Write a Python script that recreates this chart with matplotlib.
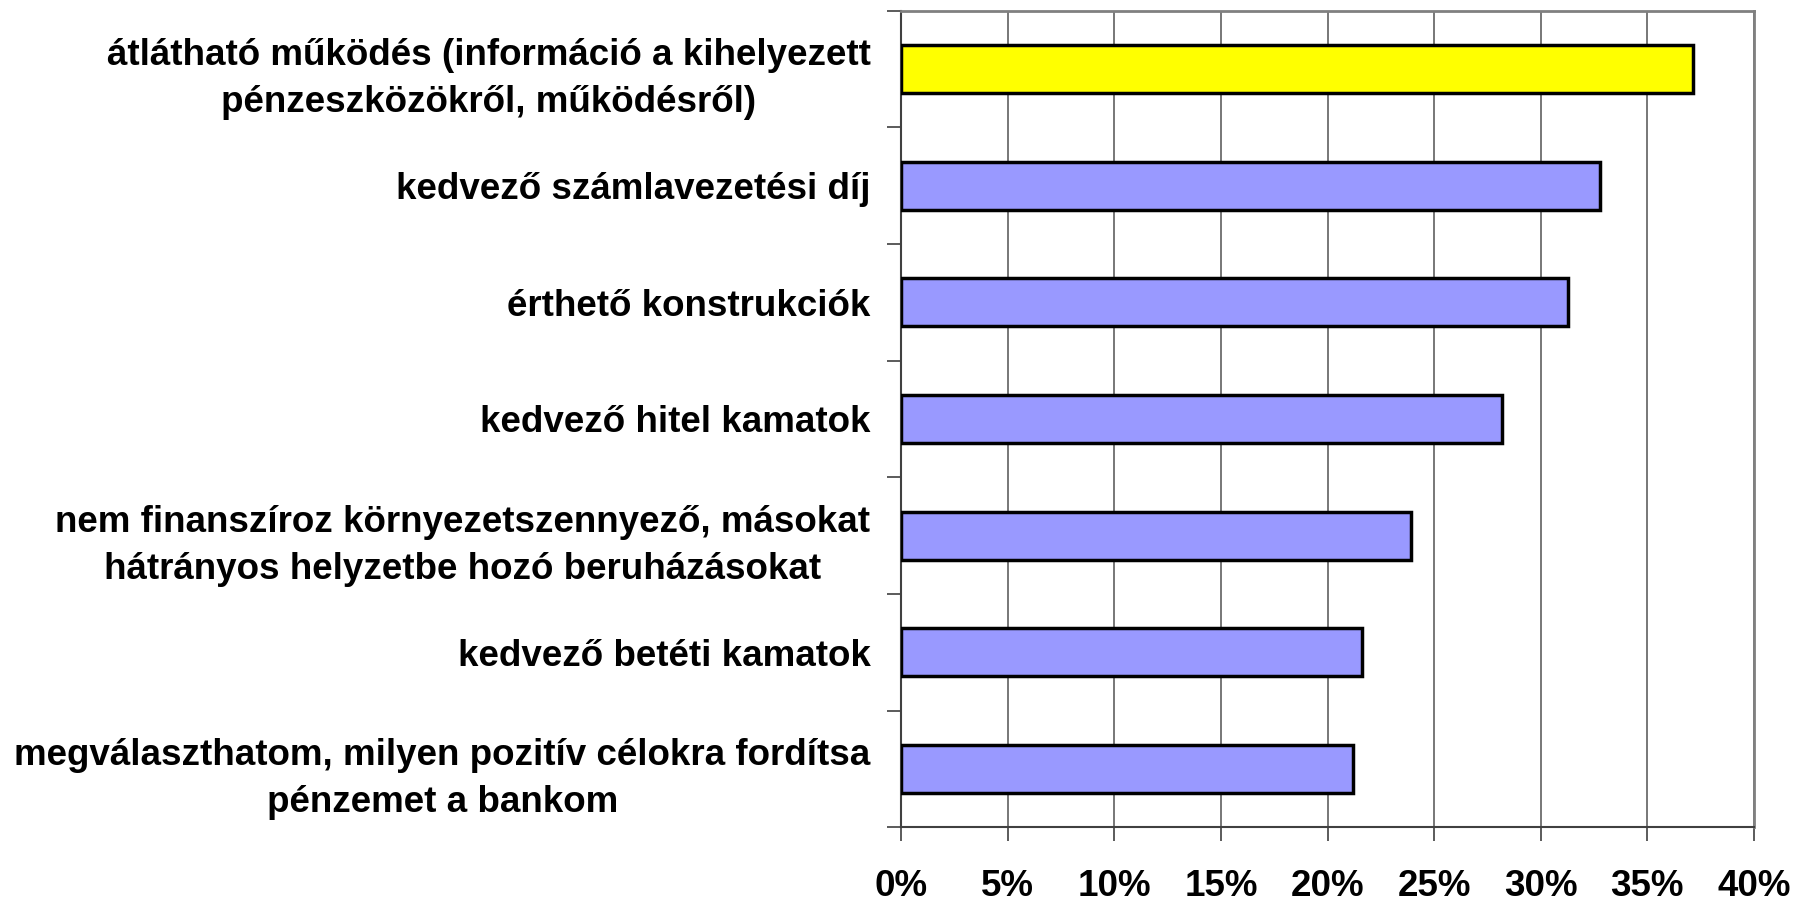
import numpy as np
import matplotlib
matplotlib.use("Agg")
import matplotlib.pyplot as plt
from matplotlib.ticker import FixedLocator, FuncFormatter

labels = ["átlátható működés (információ a kihelyezett\npénzeszközökről, működésről)",
          "kedvező számlavezetési díj",
          "érthető konstrukciók",
          "kedvező hitel kamatok",
          "nem finanszíroz környezetszennyező, másokat\nhátrányos helyzetbe hozó beruházásokat",
          "kedvező betéti kamatok",
          "megválaszthatom, milyen pozitív célokra fordítsa\npénzemet a bankom"]
values = [37.15, 32.8, 31.3, 28.2, 23.9, 21.6, 21.2]
colors = ["#FFFF00"] + ["#9999FF"] * 6
xticks = [0, 5, 10, 15, 20, 25, 30, 35, 40]

plt.rcParams["font.family"] = ["Liberation Sans", "DejaVu Sans"]
plt.rcParams["font.weight"] = "bold"

fig = plt.figure(figsize=(17.96, 9.02), dpi=100)
ax = fig.add_axes([0.5017, 0.083, 0.4749, 0.905])

y = np.arange(len(labels))
ax.barh(y, values, height=0.41, color=colors, edgecolor="black", linewidth=2.5, zorder=3)

ax.set_xlim(0, 40)
ax.set_ylim(len(labels) - 0.5, -0.5)
ax.set_xticks(xticks)
ax.xaxis.set_major_formatter(FuncFormatter(lambda v, p: f"{v:.0f}%"))
ax.grid(axis="x", color="#606060", linewidth=1.2, zorder=0)

ax.set_yticks(y)
ax.set_yticklabels(labels, fontsize=26.5, fontweight="bold", multialignment="center",
                   linespacing=1.45)
ax.yaxis.set_minor_locator(FixedLocator(np.arange(len(labels) + 1) - 0.5))
ax.tick_params(axis="y", which="major", length=0, pad=22)
ax.tick_params(axis="y", which="minor", length=10, width=1.2, color="#404040")
ax.tick_params(axis="x", length=10, width=1.2, color="#404040", pad=20,
               labelsize=26.5)
for t in ax.get_xticklabels():
    t.set_fontweight("bold")

for s in ["left", "bottom"]:
    ax.spines[s].set_color("#404040")
    ax.spines[s].set_linewidth(1.5)
for s in ["top", "right"]:
    ax.spines[s].set_color("#808080")
    ax.spines[s].set_linewidth(2)

fig.savefig("out.png", dpi=100)
